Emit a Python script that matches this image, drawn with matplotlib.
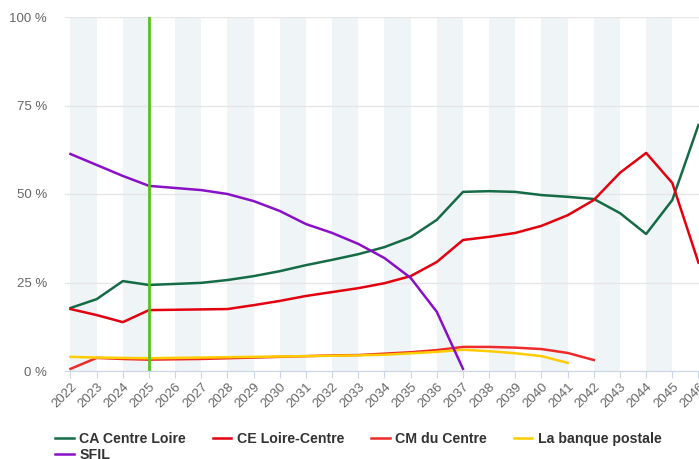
import matplotlib
matplotlib.use("Agg")
import matplotlib.pyplot as plt
from matplotlib.ticker import FuncFormatter

plt.rcParams['font.family'] = ['Liberation Sans', 'DejaVu Sans']

years = list(range(2022, 2047))

ca_centre_loire = [17.8, 20.3, 25.4, 24.3, 24.6, 24.9, 25.7, 26.8, 28.2, 29.9, 31.4, 33.0,
                   35.0, 37.8, 42.7, 50.6, 50.8, 50.6, 49.7, 49.2, 48.6, 44.6, 38.7, 48.3, 69.5]
ce_loire_centre = [17.5, 15.8, 13.8, 17.2, 17.3, 17.4, 17.5, 18.6, 19.8, 21.2, 22.3, 23.4,
                   24.8, 26.8, 30.8, 37.0, 37.9, 39.0, 41.0, 44.0, 48.3, 56.0, 61.6, 53.1, 30.6]
cm_du_centre = [0.6, 3.7, 3.4, 3.2, 3.3, 3.4, 3.6, 3.8, 4.0, 4.2, 4.4, 4.5,
                4.9, 5.3, 5.9, 6.8, 6.8, 6.6, 6.2, 5.1, 3.1]
banque_postale = [4.0, 3.8, 3.7, 3.6, 3.7, 3.8, 3.9, 4.0, 4.1, 4.2, 4.3, 4.4,
                  4.6, 5.0, 5.4, 6.0, 5.6, 5.0, 4.2, 2.3]
sfil = [61.3, 58.2, 55.1, 52.3, 51.7, 51.1, 50.0, 48.0, 45.2, 41.5, 39.0, 35.9,
        31.9, 26.3, 16.7, 0.6]

current_year = 2025

series = [
    ("CA Centre Loire", ca_centre_loire, "#156b45"),
    ("CE Loire-Centre", ce_loire_centre, "#e3000f"),
    ("CM du Centre", cm_du_centre, "#ee2a2a"),
    ("La banque postale", banque_postale, "#ffcc00"),
    ("SFIL", sfil, "#8a10c8"),
]

fig = plt.figure(figsize=(6.99, 4.59), dpi=100)
ax = fig.add_axes([65 / 699, (459 - 371) / 459, (699 - 65) / 699, (371 - 17) / 459])

# alternating background bands
for y0 in range(2022, 2046, 2):
    ax.axvspan(y0, y0 + 1, color="#eff4f7", lw=0, zorder=0)

lines = {}
for label, vals, col in series:
    lines[label], = ax.plot(years[:len(vals)], vals, color=col, lw=1.8, label=label, zorder=3)

ax.axvline(current_year, color="#52c41a", lw=2, zorder=4)

ax.set_xlim(2021.79, 2046.02)
ax.set_ylim(0, 100)
ax.set_yticks([0, 25, 50, 75, 100])
ax.yaxis.set_major_formatter(FuncFormatter(lambda v, p: f"{int(v)} %"))
ax.set_xticks(years)
ax.set_xticklabels([str(y) for y in years], rotation=45, ha="right",
                   rotation_mode="anchor")
ax.grid(axis="y", color="#e6e6e6", lw=1, zorder=1)
ax.set_axisbelow(True)

for s in ["top", "right", "left"]:
    ax.spines[s].set_visible(False)
ax.spines["bottom"].set_color("#ccd6eb")
ax.tick_params(axis="y", length=0, labelsize=9.5, labelcolor="#666666", pad=13)
ax.tick_params(axis="x", length=5, color="#ccd6eb", labelsize=9.5,
               labelcolor="#666666", pad=2)

# legend is filled column-wise, so order to get row-wise layout
order = ["CA Centre Loire", "SFIL", "CE Loire-Centre", "CM du Centre", "La banque postale"]
fig.legend([lines[k] for k in order], order,
           loc="upper left", bbox_to_anchor=(48 / 699, 1 - 425 / 459), ncol=4,
           frameon=False, borderpad=0, handlelength=1.3, handletextpad=0.4,
           columnspacing=1.9, labelspacing=0.15,
           prop={"weight": "bold", "size": 10.2}, labelcolor="#333333")

fig.savefig("out.png", dpi=100)
